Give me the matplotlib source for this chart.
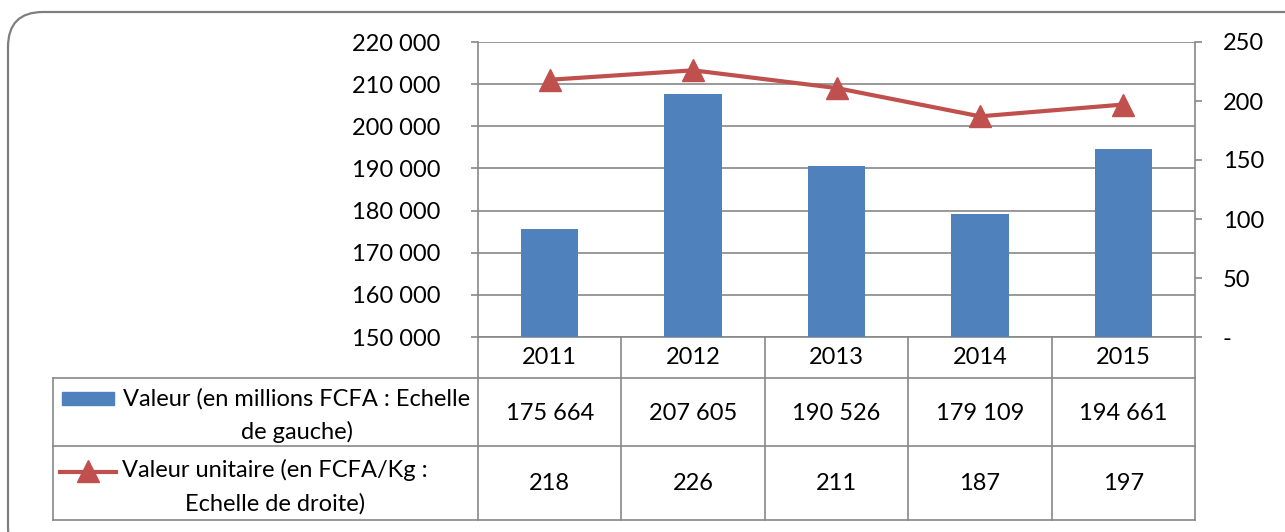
import matplotlib
matplotlib.use('Agg')
import matplotlib.pyplot as plt
from matplotlib.lines import Line2D
from matplotlib.patches import FancyBboxPatch, Rectangle

years = ['2011', '2012', '2013', '2014', '2015']
valeur = [175664, 207605, 190526, 179109, 194661]
valeur_unitaire = [218, 226, 211, 187, 197]
left_ticks = [150000, 160000, 170000, 180000, 190000, 200000, 210000, 220000]
right_ticks = [0, 50, 100, 150, 200, 250]
label_bar = ['Valeur (en millions FCFA : Echelle', 'de gauche)']
label_line = ['Valeur unitaire (en FCFA/Kg :', 'Echelle de droite)']

W, H = 1285, 532
BLUE = '#4F81BD'
RED = '#C0504D'
GRID = '#888888'
FS = 17

plt.rcParams['font.family'] = ['Lato', 'DejaVu Sans']

fig = plt.figure(figsize=(W / 100, H / 100), dpi=100)


def px(x, y):
    return x / W, 1 - y / H


def fmt(v):
    return f'{v:,}'.replace(',', ' ')


# plot area in pixel coords
x0, x1, ytop, ybot = 478, 1195, 42, 337
ax = fig.add_axes([x0 / W, 1 - ybot / H, (x1 - x0) / W, (ybot - ytop) / H])

xs = list(range(len(years)))
ax.bar(xs, valeur, width=0.4, color=BLUE, zorder=3)
ax.set_ylim(150000, 220000)
ax.set_xlim(-0.5, len(years) - 0.5)
ax.set_yticks(left_ticks)
ax.set_yticklabels([fmt(t) for t in left_ticks], fontsize=FS)
ax.set_xticks([])
ax.grid(axis='y', color=GRID, linewidth=1.2, zorder=0)
for s in ['top', 'right']:
    ax.spines[s].set_visible(False)
for s in ['left', 'bottom']:
    ax.spines[s].set_color(GRID)
    ax.spines[s].set_linewidth(1.2)
ax.tick_params(axis='y', length=5, color=GRID, width=1.2, pad=22)

ax2 = ax.twinx()
ax2.plot(xs, valeur_unitaire, color=RED, linewidth=3, marker='^',
         markersize=16, zorder=4)
ax2.set_ylim(0, 250)
ax2.set_yticks(right_ticks)
ax2.set_yticklabels(['-' if t == 0 else str(t) for t in right_ticks], fontsize=FS)
for s in ['top', 'left', 'bottom']:
    ax2.spines[s].set_visible(False)
ax2.spines['right'].set_color(GRID)
ax2.spines['right'].set_linewidth(1.2)
ax2.tick_params(axis='y', length=5, color=GRID, width=1.2, pad=15)

# data table below the chart
col_w = (x1 - x0) / len(years)
row_y = [337, 378, 446, 520]
tl = 53


def hline(y, xa, xb):
    fig.add_artist(Line2D([xa / W, xb / W], [1 - y / H, 1 - y / H],
                          color=GRID, linewidth=1.2))


def vline(x, ya, yb):
    fig.add_artist(Line2D([x / W, x / W], [1 - ya / H, 1 - yb / H],
                          color=GRID, linewidth=1.2))


for y in row_y[1:]:
    hline(y, tl, x1)
vline(tl, row_y[1], row_y[3])
for k in range(len(years) + 1):
    vline(x0 + k * col_w, row_y[0], row_y[3])

for k, yr in enumerate(years):
    cx = x0 + (k + 0.5) * col_w
    fig.text(*px(cx, 358), yr, ha='center', va='center', fontsize=FS)
    fig.text(*px(cx, 413), fmt(valeur[k]), ha='center', va='center', fontsize=FS)
    fig.text(*px(cx, 484), str(valeur_unitaire[k]), ha='center', va='center', fontsize=FS)

# legend keys in the table
bx, by = px(62, 405)
fig.add_artist(Rectangle((bx, by), 52 / W, 13 / H, color=BLUE))
fig.add_artist(Line2D([60 / W, 116 / W], [1 - 472 / H] * 2, color=RED,
                      linewidth=3))
fig.add_artist(Line2D([88 / W], [1 - 471 / H], color=RED, marker='^',
                      markersize=16, linewidth=0))

fig.text(*px(297, 399), label_bar[0], ha='center', va='center', fontsize=FS)
fig.text(*px(297, 432), label_bar[1], ha='center', va='center', fontsize=FS)
fig.text(*px(275, 470), label_line[0], ha='center', va='center', fontsize=FS)
fig.text(*px(275, 504), label_line[1], ha='center', va='center', fontsize=FS)

# rounded outer frame (inches, from the figure's bottom-left)
fig.add_artist(FancyBboxPatch((0.08, -0.3), 13.2, H / 100 - 0.12 + 0.3,
                              boxstyle='round,pad=0,rounding_size=0.35',
                              transform=fig.dpi_scale_trans,
                              facecolor='none', edgecolor='#7F7F7F',
                              linewidth=1.6))

fig.savefig('out.png', dpi=100)
